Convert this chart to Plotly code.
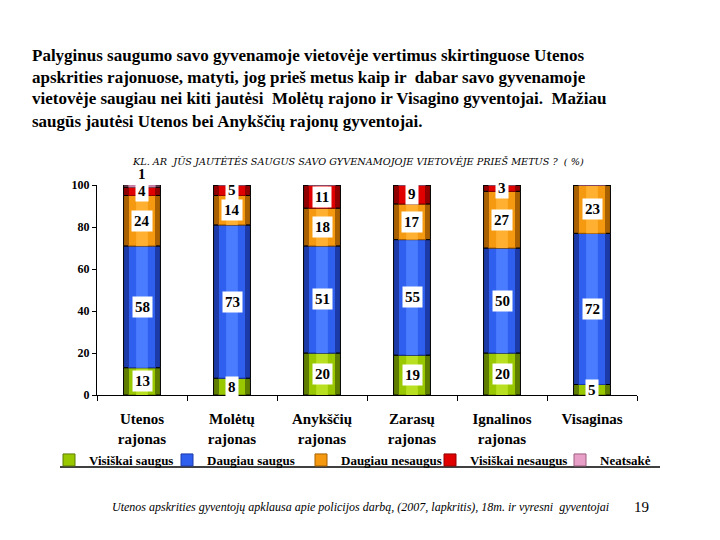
import plotly.graph_objects as go

categories = ["Utenos<br>rajonas", "Molėtų<br>rajonas", "Anykščių<br>rajonas",
              "Zarasų<br>rajonas", "Ignalinos<br>rajonas", "Visaginas"]
series_names = ["Visiškai saugus", "Daugiau saugus", "Daugiau nesaugus",
                "Visiškai nesaugus", "Neatsakė"]
visiskai_saugus = [13, 8, 20, 19, 20, 5]
daugiau_saugus = [58, 73, 51, 55, 50, 72]
daugiau_nesaugus = [24, 14, 18, 17, 27, 23]
visiskai_nesaugus = [4, 5, 11, 9, 3, 0]
neatsake = [1, 0, 0, 0, 0, 0]
series_values = [visiskai_saugus, daugiau_saugus, daugiau_nesaugus,
                 visiskai_nesaugus, neatsake]
y_ticks = [0, 20, 40, 60, 80, 100]

colors = ["#99c800", "#2f5fef", "#f59a10", "#e00000", "#e8a0c8"]
dark = ["#5f7e00", "#1c3aa8", "#a86000", "#900000", "#a06080"]
light = ["#b8e020", "#4a7cff", "#ffb030", "#ff2020", "#f8c0e0"]

SERIF = "Liberation Serif, DejaVu Serif, serif"
L, R, T, B = 97, 637, 185, 395
W, H = R - L, B - T


def px(x):
    return (x - L) / W


def py(y):
    return (B - y) / H


legend_px = [49, 167, 301, 430, 560]
legend_ids = ["legend", "legend2", "legend3", "legend4", "legend5"]

fig = go.Figure()
bases = [0] * len(categories)
annotations = []
for i, (name, vals) in enumerate(zip(series_names, series_values)):
    fig.add_trace(go.Bar(
        x=categories, y=vals, base=bases, width=0.41,
        marker=dict(color=dark[i], line=dict(color="black", width=1)),
        showlegend=False, hoverinfo="skip",
    ))
    fig.add_trace(go.Bar(
        x=categories, y=vals, base=bases, width=0.30, name=name,
        marker=dict(color=colors[i], line=dict(color=dark[i], width=1)),
        showlegend=True, legend=legend_ids[i],
    ))
    fig.add_trace(go.Bar(
        x=categories, y=vals, base=bases, width=0.13,
        marker=dict(color=light[i], line=dict(width=0)),
        showlegend=False, hoverinfo="skip",
    ))
    for j, v in enumerate(vals):
        if v > 0:
            top_extra = (i == 4)
            annotations.append(dict(
                x=categories[j], y=bases[j] + v / 2, xref="x", yref="y",
                text=str(v), showarrow=False, yshift=12 if top_extra else 0,
                font=dict(family=SERIF, size=15, color="black", weight="bold"),
                bgcolor="white", borderpad=0 if top_extra else 2,
            ))
    bases = [b + v for b, v in zip(bases, vals)]

# paragraph
para = [
    "Palyginus saugumo savo gyvenamoje vietovėje vertimus skirtinguose Utenos",
    "apskrities rajonuose, matyti, jog prieš metus kaip ir  dabar savo gyvenamoje",
    "vietovėje saugiau nei kiti jautėsi  Molėtų rajono ir Visagino gyventojai.  Mažiau",
    "saugūs jautėsi Utenos bei Anykščių rajonų gyventojai.",
]
for k, line in enumerate(para):
    annotations.append(dict(
        x=px(30), y=py(55 + 22 * k), xref="paper", yref="paper",
        xanchor="left", yanchor="middle", text=line, showarrow=False,
        font=dict(family=SERIF, size=17, color="black", weight="bold"),
    ))

annotations.append(dict(
    x=px(358), y=py(161), xref="paper", yref="paper", xanchor="center",
    yanchor="middle", showarrow=False,
    text="KL. AR  JŪS JAUTĖTĖS SAUGUS SAVO GYVENAMOJOJE VIETOVĖJE PRIEŠ METUS ?  ( %)",
    font=dict(family="DejaVu Serif", size=9.7, color="black", style="italic"),
))
annotations.append(dict(
    x=px(110), y=py(507), xref="paper", yref="paper", xanchor="left",
    yanchor="middle", showarrow=False,
    text="Utenos apskrities gyventojų apklausa apie policijos darbą, (2007, lapkritis), 18m. ir vyresni  gyventojai",
    font=dict(family="Times New Roman", size=12, color="black", style="italic"),
))
annotations.append(dict(
    x=px(641), y=py(507), xref="paper", yref="paper", xanchor="center",
    yanchor="middle", showarrow=False, text="19",
    font=dict(family=SERIF, size=15, color="black"),
))

legend_common = dict(
    orientation="h", xanchor="left", yanchor="middle", y=py(460),
    font=dict(family=SERIF, size=13, color="black", weight="bold"),
    itemwidth=30, bgcolor="rgba(0,0,0,0)",
)
legends = {}
for lid, lx in zip(legend_ids, legend_px):
    legends[lid] = dict(legend_common, x=px(lx))

fig.update_layout(
    width=720, height=540,
    margin=dict(l=L, r=720 - R, t=T, b=540 - B, pad=0),
    barmode="overlay",
    plot_bgcolor="white", paper_bgcolor="white",
    annotations=annotations,
    showlegend=True,
    shapes=[dict(type="line", xref="paper", yref="paper",
                 x0=px(60), x1=px(660), y0=py(467), y1=py(467),
                 line=dict(color="black", width=1.5))],
    **legends,
)
fig.update_yaxes(
    range=[0, 100], tickvals=y_ticks, showgrid=False, zeroline=False,
    showline=True, linecolor="black", linewidth=1, ticks="outside",
    ticklen=4, tickcolor="black",
    tickfont=dict(family=SERIF, size=12, color="black", weight="bold"),
)
fig.update_xaxes(
    showgrid=False, showline=True, linecolor="black", linewidth=1,
    ticks="outside", ticklen=5, tickcolor="black", tickson="boundaries",
    tickfont=dict(family=SERIF, size=15, color="black", weight="bold"),
    ticklabelstandoff=10, range=[-0.5, 5.5],
)

fig.write_html("out.html")
